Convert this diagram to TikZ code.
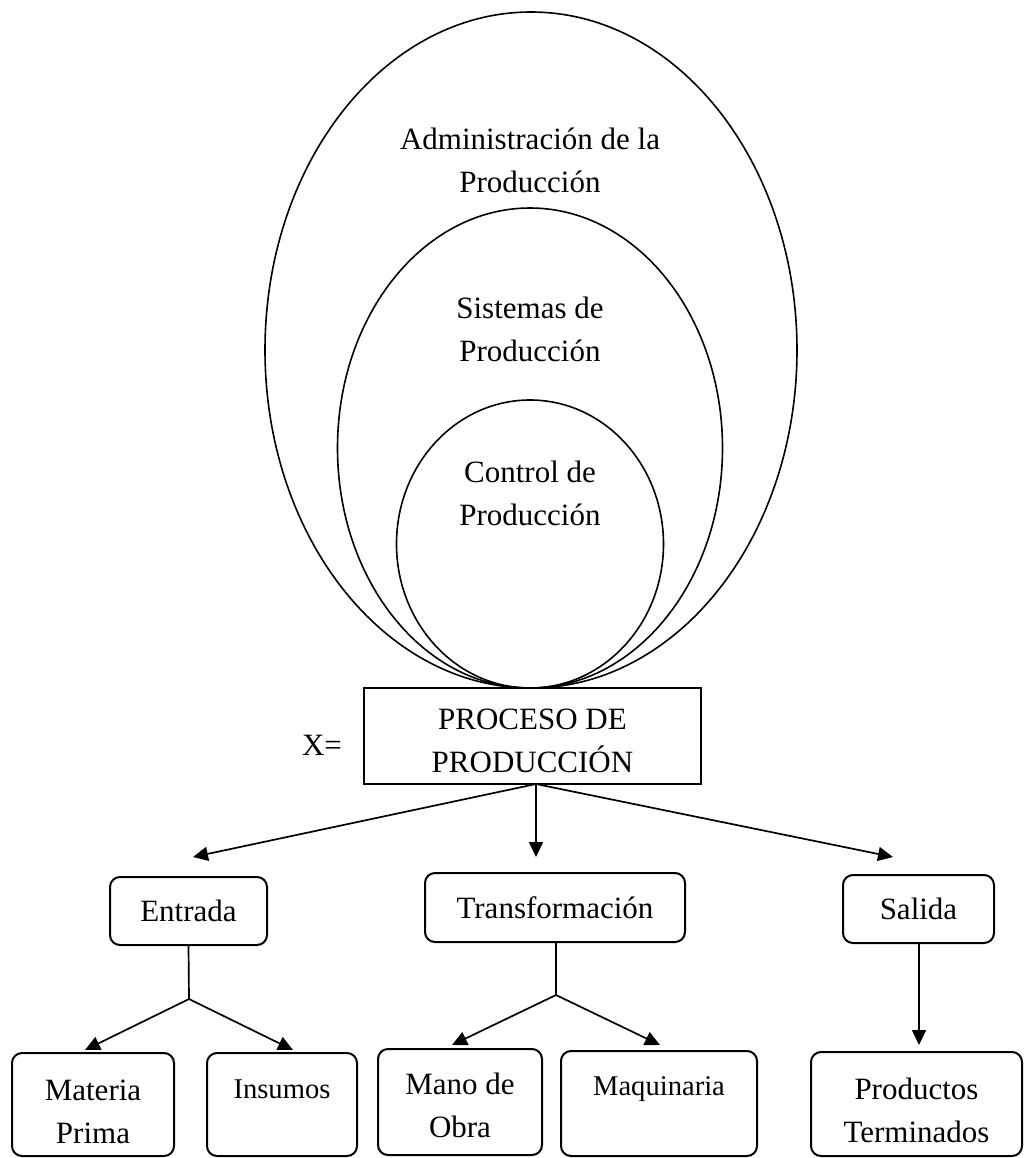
\documentclass[tikz,border=0pt]{standalone}
\usepackage{fontspec}
\setmainfont{Liberation Serif}
\usetikzlibrary{arrows.meta,shapes.geometric}
% invisible strut that lowers a block of text inside its box
\newcommand\topgap[1]{\rule{0pt}{#1}}
\begin{document}
\begin{tikzpicture}[x=0.5pt,y=-0.5pt,
  ring/.style={draw, ellipse, line width=0.8pt, inner sep=0pt, outer sep=0pt},
  big/.style={font=\fontsize{15.5}{21.5}\selectfont, align=center},
  small/.style={font=\fontsize{14.3}{20}\selectfont, align=center},
  procbox/.style={draw, line width=1pt, inner sep=0pt, outer sep=0pt, big},
  rbox/.style={draw, rounded corners=5pt, line width=1pt, inner sep=0pt, outer sep=0pt},
  arr/.style={line width=0.85pt, -{Triangle[length=7.5pt,width=7pt]}},
  link/.style={line width=0.85pt}]
\useasboundingbox (0,0) rectangle (1024,1158);

% nested levels, all resting on the process box
\node[ring, minimum width=266pt, minimum height=338pt] (admin) at (531,350) {};
\node[ring, minimum width=192.5pt, minimum height=240pt] (sist) at (530,448) {};
\node[ring, minimum width=133.5pt, minimum height=144pt] (ctrl) at (530,544) {};

\node[big] (tadmin) at (530,160) {Administración de la\\Producción};
\node[big] (tsist) at (530,329) {Sistemas de\\Producción};
\node[big] (tctrl) at (530,493) {Control de\\Producción};

% production process
\node[procbox, minimum width=168.5pt, minimum height=48pt] (proc) at (532.5,736) {\topgap{15.5pt}PROCESO DE\\PRODUCCIÓN};
\node[big] (xeq) at (322,745) {X=};

% stages
\node[rbox, big, minimum width=78.5pt, minimum height=34pt] (ent) at (188.5,911) {Entrada};
\node[rbox, big, minimum width=130pt, minimum height=34.5pt] (trf) at (555,907.5) {Transformación};
\node[rbox, big, minimum width=75.5pt, minimum height=34pt] (sal) at (918.5,909) {Salida};

% elements of each stage
\node[rbox, big, minimum width=81pt, minimum height=51.5pt] (mp) at (93,1104.5) {\topgap{17.5pt}Materia\\Prima};
\node[rbox, small, minimum width=75pt, minimum height=51.5pt] (ins) at (282,1104.5) {\topgap{13.5pt}Insumos\\\mbox{}};
\node[rbox, big, minimum width=82pt, minimum height=53pt] (mo) at (460,1102) {\topgap{14pt}Mano de\\Obra};
\node[rbox, small, minimum width=98pt, minimum height=52.5pt] (maq) at (659,1103.5) {\topgap{11.5pt}Maquinaria\\\mbox{}};
\node[rbox, big, minimum width=105.5pt, minimum height=52pt] (pt) at (916.5,1104) {\topgap{17.5pt}Productos\\Terminados};

% arrow ends and branch points
\coordinate (tipE) at (193,857);
\coordinate (tipT) at (536,857);
\coordinate (tipS) at (893,857);
\coordinate (jE) at (189,999);
\coordinate (tipMP) at (85,1050);
\coordinate (tipIN) at (293,1050);
\coordinate (jT) at (556,995);
\coordinate (tipMO) at (452,1045);
\coordinate (tipMQ) at (660,1045);
\coordinate (tipPT) at (919,1045);

\draw[arr] ([xshift=1.75pt]proc.south) -- (tipE);
\draw[arr] ([xshift=1.75pt]proc.south) -- (tipT);
\draw[arr] ([xshift=1.75pt]proc.south) -- (tipS);

\draw[link] (ent.south) -- (jE);
\draw[arr] (jE) -- (tipMP);
\draw[arr] (jE) -- (tipIN);

\draw[link] ([xshift=0.5pt]trf.south) -- (jT);
\draw[arr] (jT) -- (tipMO);
\draw[arr] (jT) -- (tipMQ);

\draw[arr] ([xshift=0.25pt]sal.south) -- (tipPT);
\end{tikzpicture}
\end{document}
